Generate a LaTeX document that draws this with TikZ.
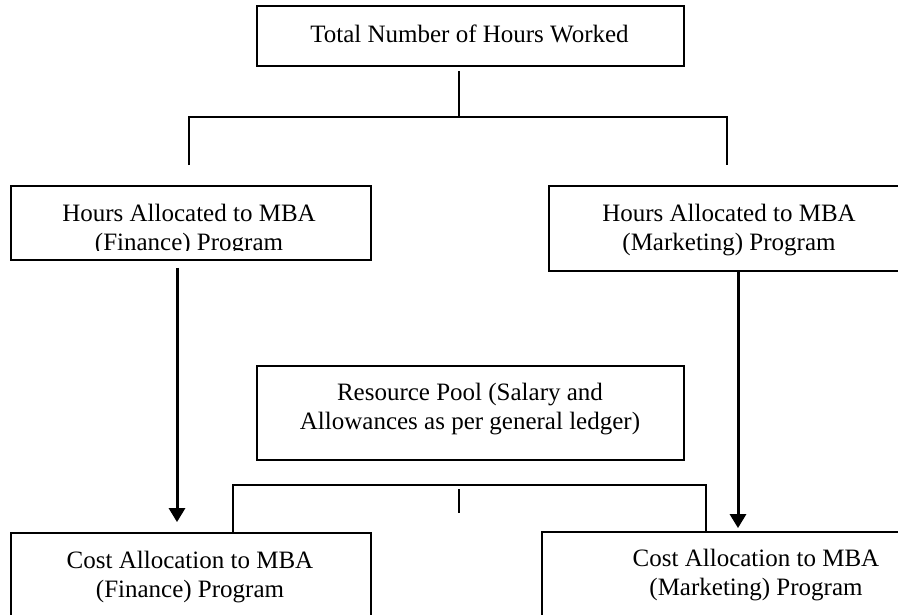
\documentclass[tikz,border=0pt]{standalone}
\usepackage{fontspec}
\setmainfont{Liberation Serif}
\usetikzlibrary{arrows.meta}
\begin{document}
\begin{tikzpicture}[x=1pt,y=-1pt,
  frame/.style={draw=black, line width=1.8pt, rectangle, inner sep=0pt},
  lbl/.style={align=center, inner sep=0pt, font=\fontsize{25}{29}\selectfont},
  conn/.style={line width=1.8pt},
  arr/.style={line width=3pt, -{Triangle[width=16pt,length=14pt]}}]

% page
\useasboundingbox (0,0) rectangle (898,614);
\fill[white] (0,0) rectangle (898,614);
\clip (0,0) rectangle (898,614);

% frames
\node[frame, minimum width=427pt, minimum height=60pt]  (top) at (470.5,36) {};
\node[frame, minimum width=360pt, minimum height=74pt]  (hf)  at (191,223) {};
\node[frame, minimum width=360pt, minimum height=85pt]  (hm)  at (729,228.5) {};
\node[frame, minimum width=427pt, minimum height=94pt]  (rp)  at (470.5,413) {};
\node[frame, minimum width=360pt, minimum height=107pt] (cf)  at (191,586.5) {};
\node[frame, minimum width=428pt, minimum height=108pt] (cm)  at (756,586) {};

% labels
\node[lbl] (top-t) at (469.5,33.7) {Total Number of Hours Worked};
\begin{scope}
  \clip (0,0) rectangle (898,250);
  \node[lbl] (hf-t) at (189,229.75) {Hours Allocated to MBA\\(Finance) Program};
\end{scope}
\node[lbl] (hm-t) at (729,229.75) {Hours Allocated to MBA\\(Marketing) Program};
\node[lbl] (rp-t) at (470,408.75) {Resource Pool (Salary and\\Allowances as per general ledger)};
\node[lbl] (cf-t) at (190,576.75) {Cost Allocation to MBA\\(Finance) Program};
\node[lbl] (cm-t) at (756,574.75) {Cost Allocation to MBA\\(Marketing) Program};

% split of the total hours
\coordinate (stem) at (459,71);
\coordinate (bar)  at (459,117);
\coordinate (barL) at (189,117);
\coordinate (barR) at (727,117);
\coordinate (legL) at (189,165);
\coordinate (legR) at (727,165);
\draw[conn] (stem) -- (bar);
\draw[conn] (legL) -- (barL) -- (barR) -- (legR);

% hours flow down to the cost allocations
\coordinate (ax) at (177,0);
\coordinate (bx) at (738,0);
\draw[arr, shorten <=7pt, shorten >=10pt] (ax |- hf.south) -- (ax |- cf.north);
\draw[arr, shorten >=3pt] (bx |- hm.south) -- (bx |- cm.north);

% resource pool split
\coordinate (pl) at (233,485);
\coordinate (pr) at (706,485);
\coordinate (tick1) at (459,489);
\coordinate (tick2) at (459,513);
\draw[conn] (pl |- cf.north) -- (pl) -- (pr) -- (pr |- cm.north);
\draw[conn] (tick1) -- (tick2);
\end{tikzpicture}
\end{document}
